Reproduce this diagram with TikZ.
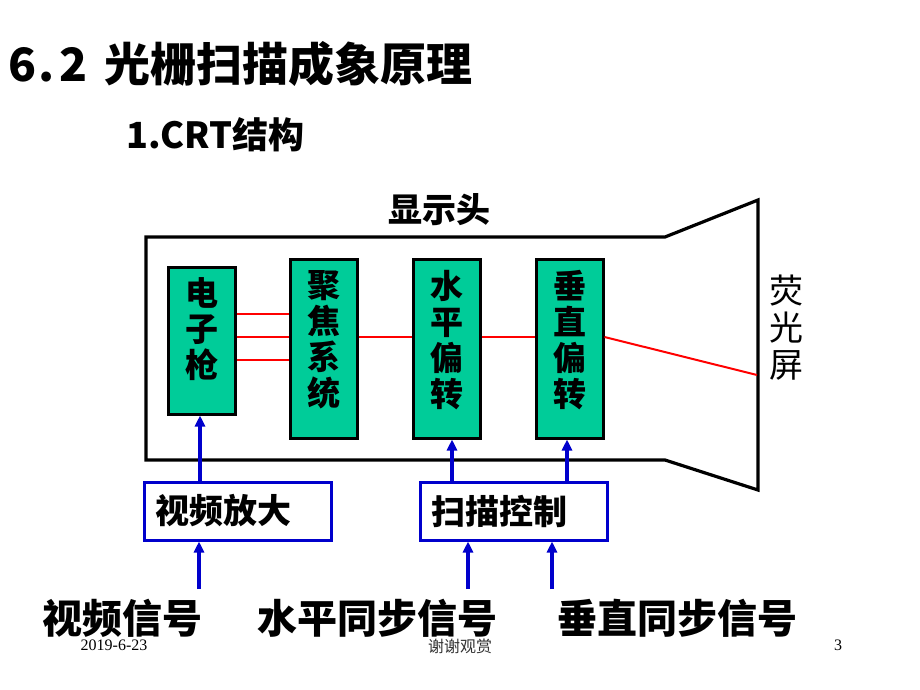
\documentclass[tikz,border=0pt]{standalone}
\usepackage{fontspec}
\setmainfont{Liberation Serif}
\newfontfamily\cjk{Noto Sans CJK SC}
\usetikzlibrary{arrows.meta}
\definecolor{boxgreen}{RGB}{0,204,153}
\definecolor{arrowblue}{RGB}{0,0,204}
\tikzset{
  x=1pt, y=-1pt,
  body/.style={draw=black, line width=3.2pt, line join=miter},
  gunbox/.style={draw=black, fill=boxgreen, line width=3pt, minimum width=67pt, inner sep=0pt},
  boxtext/.style={font=\cjk\bfseries\fontsize{33}{36}\selectfont, align=center, inner sep=0pt},
  ctrlbox/.style={draw=arrowblue, line width=3pt, minimum width=187pt, minimum height=58pt, inner sep=0pt},
  ctrltext/.style={font=\cjk\bfseries\fontsize{34}{36}\selectfont, inner sep=0pt},
  sigtext/.style={font=\cjk\bfseries\fontsize{40}{44}\selectfont, inner sep=0pt},
  beam/.style={draw=red, line width=2pt},
  sigarrow/.style={draw=arrowblue, line width=3.5pt, -{Triangle[length=11pt,width=10pt]}},
  foot/.style={font=\fontsize{16}{18}\selectfont, inner sep=0pt},
}
\begin{document}
\begin{tikzpicture}
\useasboundingbox[fill=white] (0,0) rectangle (920,690);

% title
\node[anchor=west, inner sep=0pt, font=\cjk\bfseries\fontsize{46}{50}\selectfont] (title) at (8,64) {6\kern0.06em.\kern0.1em2\hspace{0.36em}光栅扫描成象原理};
\node[anchor=west, inner sep=0pt, font=\cjk\bfseries\fontsize{36}{40}\selectfont] (sub) at (126,135) {1.CRT结构};

% CRT body
\draw[body] (146,237) -- (665,237) -- (758,200) -- (758,490) -- (665,460) -- (146,460) -- cycle;
\node[font=\cjk\bfseries\fontsize{34}{36}\selectfont, inner sep=0pt] (head) at (439,210) {显示头};
\node[font=\cjk\fontsize{34}{37}\selectfont, align=center, inner sep=0pt] (screen) at (786,328) {荧\\光\\屏};

% boxes
\node[gunbox, minimum height=147pt] (gun) at (201.5,340.5) {};
\node[gunbox, minimum height=179pt] (focus) at (323.5,348.5) {};
\node[gunbox, minimum height=179pt] (hdef) at (446.5,348.5) {};
\node[gunbox, minimum height=179pt] (vdef) at (569.5,348.5) {};
\node[boxtext] (gunt) at (201.5,329) {电\\子\\枪};
\node[boxtext] (focust) at (323.5,340) {聚\\焦\\系\\统};
\node[boxtext] (hdeft) at (446.5,340) {水\\平\\偏\\转};
\node[boxtext] (vdeft) at (569.5,340) {垂\\直\\偏\\转};

% beams
\coordinate (r1) at (0,314);
\coordinate (r2) at (0,337);
\coordinate (r3) at (0,360);
\coordinate (hit) at (757,375);
\draw[beam] (gun.east |- r1) -- (focus.west |- r1);
\draw[beam] (gun.east |- r2) -- (focus.west |- r2);
\draw[beam] (gun.east |- r3) -- (focus.west |- r3);
\draw[beam] (focus.east |- r2) -- (hdef.west |- r2);
\draw[beam] (hdef.east |- r2) -- (vdef.west |- r2);
\draw[beam] (vdef.east |- r2) -- (hit);

% control boxes
\node[ctrlbox] (amp) at (237.5,511) {};
\node[ctrltext, anchor=west] (ampt) at (155,511) {视频放大};
\node[ctrlbox] (scan) at (514,511) {};
\node[ctrltext, anchor=west] (scant) at (431,511) {扫描控制};

% arrows up into CRT
\coordinate (ax1) at (200,0);
\coordinate (ax2) at (452,0);
\coordinate (ax3) at (567,0);
\draw[sigarrow] (amp.north -| ax1) -- (gun.south -| ax1);
\draw[sigarrow] (scan.north -| ax2) -- (hdef.south -| ax2);
\draw[sigarrow] (scan.north -| ax3) -- (vdef.south -| ax3);

% signals
\node[sigtext] (vsig) at (122,618) {视频信号};
\node[sigtext] (hsync) at (377,618) {水平同步信号};
\node[sigtext] (vsync) at (677,618) {垂直同步信号};
\coordinate (s1) at (199,589);
\coordinate (s2) at (468,589);
\coordinate (s3) at (552,589);
\draw[sigarrow] (s1) -- (amp.south -| s1);
\draw[sigarrow] (s2) -- (scan.south -| s2);
\draw[sigarrow] (s3) -- (scan.south -| s3);

% footer
\node[foot] (date) at (114,645) {2019-6-23};
\node[foot, font=\cjk\fontsize{16}{18}\selectfont, text=black!80] (thanks) at (460,646) {谢谢观赏};
\node[foot] (page) at (838,645) {3};
\end{tikzpicture}
\end{document}
